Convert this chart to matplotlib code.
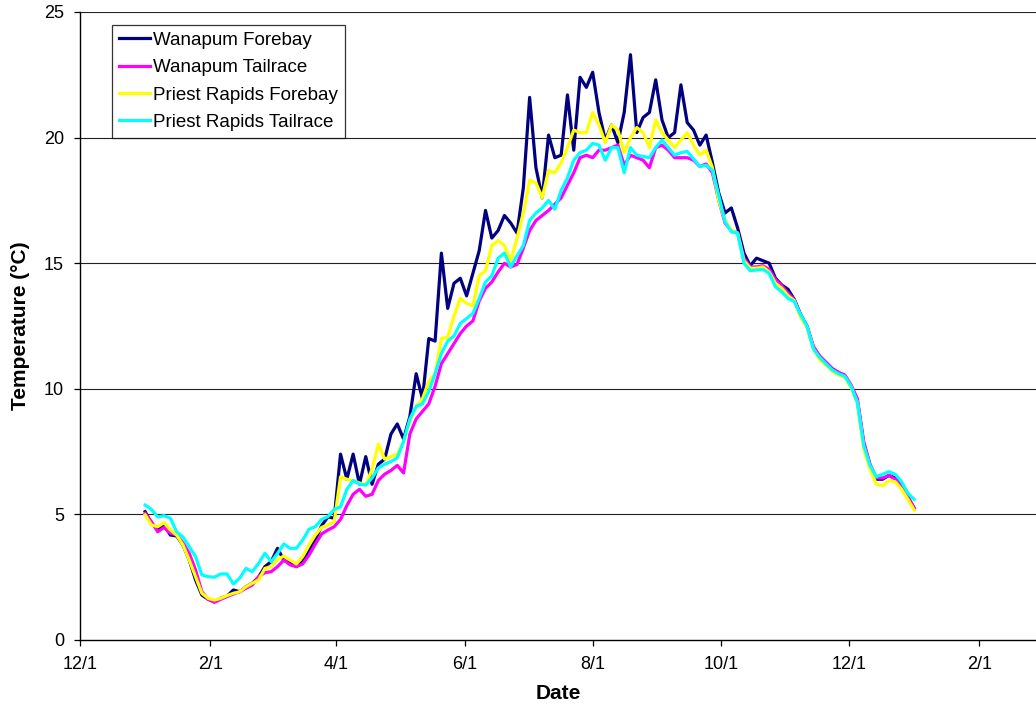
import matplotlib
matplotlib.use("Agg")
import matplotlib.pyplot as plt
import matplotlib.dates as mdates
from matplotlib.ticker import FuncFormatter
import pandas as pd

plt.rcParams['font.family'] = ['Liberation Sans', 'DejaVu Sans']

# values sampled every 3 days from 2004-01-01
wanapum_forebay = [5.11, 4.64, 4.41, 4.58, 4.18, 4.14, 3.78, 3.18, 2.39, 1.79,
                   1.62, 1.53, 1.66, 1.75, 1.99, 1.92, 2.12, 2.26, 2.5, 2.92,
                   3.12, 3.65, 3.18, 3.05, 2.92, 3.12, 3.52, 3.98, 4.55, 4.9,
                   4.85, 7.4, 6.4, 7.4, 6.2, 7.3, 6.2, 7.0, 7.2, 8.2,
                   8.6, 8.0, 8.9, 10.6, 9.6, 12.0, 11.9, 15.4, 13.2, 14.2,
                   14.4, 13.7, 14.6, 15.5, 17.1, 16.0, 16.3, 16.9, 16.6, 16.2,
                   18.0, 21.6, 18.8, 17.6, 20.1, 19.2, 19.3, 21.7, 19.5, 22.4,
                   22.0, 22.6, 21.0, 19.9, 20.5, 19.8, 21.0, 23.3, 20.2, 20.8,
                   21.0, 22.3, 20.7, 20.0, 20.2, 22.1, 20.6, 20.3, 19.7, 20.1,
                   19.0, 17.8, 17.0, 17.2, 16.4, 15.4, 14.9, 15.2, 15.1, 15.0,
                   14.4, 14.13, 13.96, 13.55, 12.95, 12.5, 11.65, 11.3, 11.05, 10.8,
                   10.65, 10.52, 10.1, 9.5, 7.8, 6.95, 6.4, 6.4, 6.55, 6.45,
                   6.1, 5.7, 5.25]
wanapum_tailrace = [5.04, 4.71, 4.31, 4.48, 4.25, 4.18, 3.87, 3.45, 2.79, 1.92,
                    1.62, 1.5, 1.62, 1.73, 1.83, 1.92, 2.06, 2.19, 2.52, 2.68,
                    2.72, 2.92, 3.18, 2.99, 2.92, 3.03, 3.38, 3.82, 4.22, 4.38,
                    4.51, 4.8, 5.35, 5.8, 6.0, 5.72, 5.8, 6.35, 6.6, 6.75,
                    6.95, 6.65, 8.2, 8.8, 9.1, 9.4, 10.1, 11.0, 11.4, 11.8,
                    12.2, 12.5, 12.7, 13.5, 14.0, 14.25, 14.65, 15.0, 14.85, 14.95,
                    15.6, 16.3, 16.7, 16.9, 17.1, 17.35, 17.6, 18.1, 18.6, 19.2,
                    19.3, 19.2, 19.5, 19.5, 19.6, 19.7, 18.9, 19.3, 19.2, 19.1,
                    18.8, 19.6, 19.7, 19.5, 19.2, 19.2, 19.2, 19.1, 18.85, 18.95,
                    18.6, 17.5, 16.6, 16.3, 16.2, 15.2, 14.85, 14.85, 14.9, 14.75,
                    14.35, 14.1, 13.8, 13.55, 12.9, 12.5, 11.7, 11.3, 11.05, 10.8,
                    10.65, 10.55, 10.15, 9.6, 7.9, 7.0, 6.45, 6.45, 6.55, 6.4,
                    6.1, 5.7, 5.24]
priest_forebay = [4.98, 4.58, 4.51, 4.67, 4.38, 4.18, 3.78, 3.18, 2.52, 1.86,
                  1.66, 1.59, 1.66, 1.77, 1.86, 1.92, 2.12, 2.26, 2.39, 2.85,
                  2.92, 3.21, 3.34, 3.18, 3.03, 3.32, 3.78, 4.18, 4.48, 4.58,
                  4.71, 6.5, 6.4, 6.35, 6.25, 6.17, 6.8, 7.8, 7.2, 7.3,
                  7.4, 7.9, 8.7, 9.3, 9.6, 10.3, 10.6, 12.0, 12.05, 12.9,
                  13.6, 13.4, 13.3, 14.5, 14.7, 15.7, 15.9, 15.7, 15.1, 16.0,
                  17.0, 18.3, 18.2, 17.6, 18.7, 18.6, 19.0, 19.6, 20.3, 20.2,
                  20.2, 21.0, 20.5, 19.8, 20.5, 20.3, 19.4, 20.0, 20.4, 20.2,
                  19.6, 20.7, 20.2, 19.9, 19.6, 19.9, 20.2, 19.7, 19.3, 19.5,
                  18.8, 17.5, 16.7, 16.3, 16.2, 15.1, 14.8, 14.8, 14.85, 14.65,
                  14.2, 14.0, 13.7, 13.5, 12.85, 12.45, 11.6, 11.15, 10.95, 10.7,
                  10.55, 10.45, 10.05, 9.45, 7.6, 6.8, 6.2, 6.15, 6.35, 6.3,
                  6.0, 5.6, 5.17]
priest_tailrace = [5.37, 5.2, 4.9, 4.95, 4.85, 4.31, 4.1, 3.72, 3.32, 2.59,
                   2.52, 2.5, 2.63, 2.63, 2.23, 2.46, 2.85, 2.72, 3.05, 3.45,
                   3.12, 3.45, 3.82, 3.65, 3.65, 3.98, 4.41, 4.51, 4.8, 4.91,
                   5.2, 5.3, 6.0, 6.35, 6.2, 6.17, 6.45, 6.85, 7.0, 7.1,
                   7.25, 7.9, 8.8, 9.3, 9.4, 9.9, 10.6, 11.4, 11.9, 12.1,
                   12.6, 12.8, 13.0, 13.6, 14.25, 14.5, 15.2, 15.4, 14.85, 15.3,
                   15.7, 16.7, 17.0, 17.2, 17.5, 17.15, 17.9, 18.4, 19.1, 19.4,
                   19.5, 19.77, 19.7, 19.1, 19.6, 19.6, 18.6, 19.6, 19.3, 19.25,
                   19.2, 19.6, 19.9, 19.6, 19.3, 19.4, 19.45, 19.15, 18.85, 18.9,
                   18.7, 17.7, 16.65, 16.25, 16.19, 15.0, 14.7, 14.73, 14.75, 14.6,
                   14.06, 13.86, 13.6, 13.47, 12.94, 12.5, 11.6, 11.25, 11.0, 10.75,
                   10.6, 10.5, 10.1, 9.45, 7.75, 6.95, 6.5, 6.6, 6.7, 6.6,
                   6.3, 5.85, 5.6]

series_names = ["Wanapum Forebay", "Wanapum Tailrace",
                "Priest Rapids Forebay", "Priest Rapids Tailrace"]
series_colors = ["#000080", "#FF00FF", "#FFFF00", "#00FFFF"]
y_ticks = [0, 5, 10, 15, 20, 25]

dates = pd.date_range("2004-01-01", periods=len(wanapum_forebay), freq="3D")

fig = plt.figure(figsize=(10.36, 7.16), dpi=100)
ax = fig.add_axes([80 / 1036, 76 / 716, 956 / 1036, 628 / 716])

for vals, name, col in zip([wanapum_forebay, wanapum_tailrace, priest_forebay, priest_tailrace],
                           series_names, series_colors):
    ax.plot(dates, vals, color=col, lw=2.3, label=name, solid_joinstyle='round')

ax.set_xlim(pd.Timestamp("2003-12-01"), pd.Timestamp("2003-12-01") + pd.Timedelta(days=455))
ax.set_ylim(0, 25)
ax.set_yticks(y_ticks)
ax.xaxis.set_major_locator(mdates.MonthLocator(bymonth=[2, 4, 6, 8, 10, 12], bymonthday=1))
ax.xaxis.set_major_formatter(FuncFormatter(
    lambda v, p: f"{mdates.num2date(v).month}/{mdates.num2date(v).day}"))

for yv in y_ticks[1:]:
    ax.axhline(yv, color="#222222", lw=0.8, zorder=0.5)

ax.spines['right'].set_visible(False)
ax.spines['top'].set_visible(False)
for s in ['left', 'bottom']:
    ax.spines[s].set_color('black')
    ax.spines[s].set_linewidth(1.0)
ax.tick_params(axis='both', direction='out', length=4.5, width=0.9, labelsize=13, pad=7,
               colors='black')

ax.set_xlabel("Date", fontsize=15, fontweight='bold', labelpad=8)
ax.set_ylabel("Temperature (°C)", fontsize=15, fontweight='bold', labelpad=10)

leg = ax.legend(loc='upper left', bbox_to_anchor=(32 / 956, 615 / 628), borderaxespad=0,
                fancybox=False, frameon=True, fontsize=13.5, handlelength=1.65,
                handletextpad=0.2, labelspacing=0.55, borderpad=0.35)
leg.get_frame().set_edgecolor('black')
leg.get_frame().set_linewidth(0.9)
for h in leg.get_lines():
    h.set_linewidth(2.3)

fig.savefig("out.png", dpi=100)
